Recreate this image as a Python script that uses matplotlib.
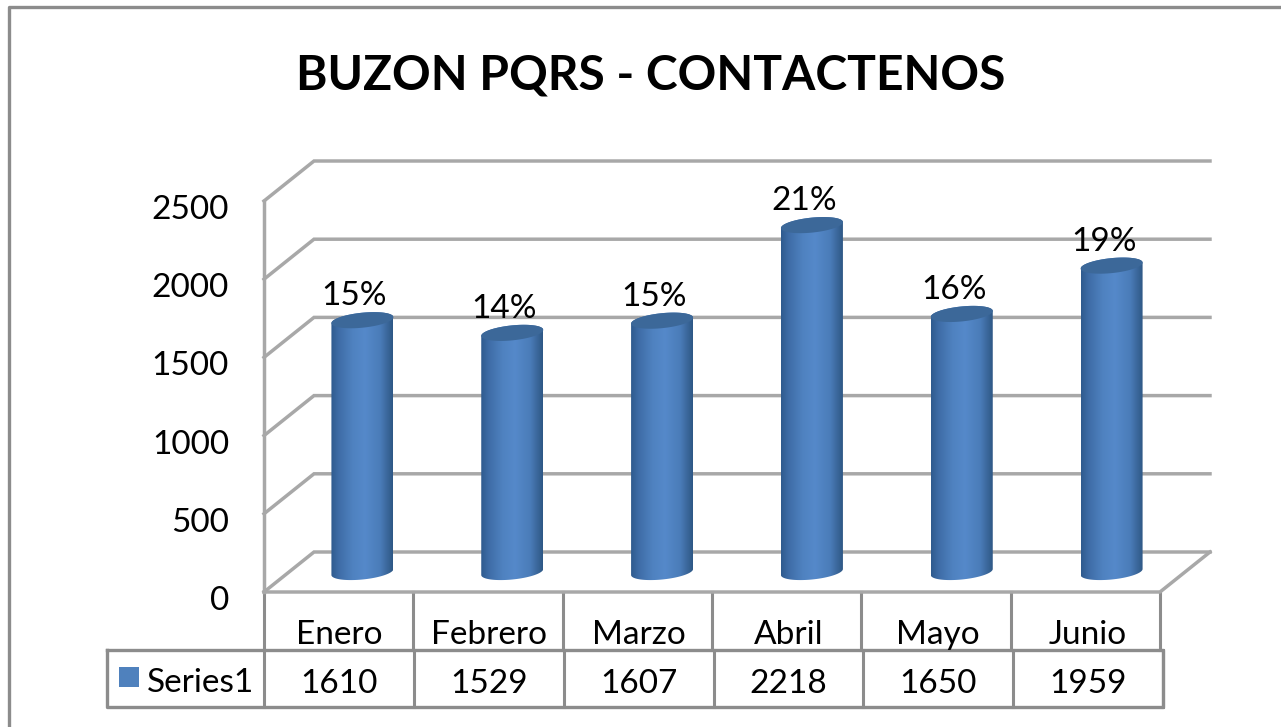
import numpy as np
import matplotlib
matplotlib.use('Agg')
import matplotlib.pyplot as plt
from matplotlib.colors import LinearSegmentedColormap
from matplotlib.patches import Polygon

W, H = 1281, 727

months = ['Enero', 'Febrero', 'Marzo', 'Abril', 'Mayo', 'Junio']
values = [1610, 1529, 1607, 2218, 1650, 1959]
percents = ['15%', '14%', '15%', '21%', '16%', '19%']
y_ticks = [0, 500, 1000, 1500, 2000, 2500]
series_name = 'Series1'
title = 'BUZON PQRS - CONTACTENOS'

LINE = '#8c8c8c'
GRID = '#a8a8a8'
BLUE = '#4f81bd'
FS = 24

plt.rcParams['font.family'] = ['Lato', 'DejaVu Sans']

fig = plt.figure(figsize=(W / 100, H / 100), dpi=100, facecolor='white')

# capa en pixeles para el marco y la tabla
bg = fig.add_axes([0, 0, 1, 1])
bg.set_xlim(0, W)
bg.set_ylim(H, 0)
bg.axis('off')
bg.plot([9, 9, W], [H, 7, 7], color=LINE, lw=2.4)

# ejes de datos: plano frontal del grafico 3D
x0, x1, y0, y1 = 264, 1163, 592, 201
ax = fig.add_axes([x0 / W, (H - y0) / H, (x1 - x0) / W, (y0 - y1) / H])
ax.set_xlim(-0.5, 5.5)
ax.set_ylim(0, 2500)
ax.axis('off')
ax.patch.set_alpha(0)

px = 6 / (x1 - x0)
py = 2500 / (y0 - y1)
depth_x, depth_y = 50 * px, 40 * py
front_right = 5.5 - 3 * px

# paredes y rejilla
for v in y_ticks:
    ax.plot([-0.5, -0.5 + depth_x, front_right + depth_x], [v, v + depth_y, v + depth_y],
            color=GRID, lw=2.5, clip_on=False, zorder=1, solid_joinstyle='miter')
ax.plot([-0.5, -0.5], [0, 2500], color=GRID, lw=2.5, clip_on=False, zorder=1)
ax.plot([-0.5, front_right, front_right + depth_x], [0, 0, depth_y],
        color=GRID, lw=2.5, clip_on=False, zorder=2)

# cilindros
cmap = LinearSegmentedColormap.from_list('cyl', [
    (0.0, '#2f5b8e'), (0.12, '#3e6ca6'), (0.35, '#4f82c0'), (0.55, '#5589ca'),
    (0.8, '#4a7cb8'), (0.92, '#3a6699'), (1.0, '#2e5885')])
grad = np.linspace(0, 1, 128).reshape(1, -1)
t = np.linspace(0, 2 * np.pi, 121)
a, b, tilt = 31, 7.5, 3.0
for i, v in enumerate(values):
    cx = i + 23.5 * px
    base = 20 * py
    ex = cx + a * np.cos(t) * px
    ew = (b * np.sin(t) + tilt * np.cos(t)) * py
    lower = t[60:]
    upper = t[:61]
    body_x = np.r_[cx + a * np.cos(lower) * px, cx + a * np.cos(upper) * px]
    body_y = np.r_[base + (b * np.sin(lower) + tilt * np.cos(lower)) * py,
                   base + v + (b * np.sin(upper) + tilt * np.cos(upper)) * py]
    body = Polygon(np.c_[body_x, body_y], closed=True, transform=ax.transData, fc='none', ec='none')
    ax.add_patch(body)
    img = ax.imshow(grad, cmap=cmap, aspect='auto', zorder=3,
                    extent=[cx - a * px, cx + a * px, 0, base + v + 2 * b * py])
    img.set_clip_path(body)
    ax.fill(ex, base + v + ew, color='#3c6899', zorder=4, lw=0)
    ax.annotate(percents[i], (cx, base + v), xytext=(-8, 24), textcoords='offset pixels',
                ha='center', va='center', fontsize=FS, color='black', zorder=5)
ax.set_xlim(-0.5, 5.5)
ax.set_ylim(0, 2500)

# etiquetas del eje y
for v in y_ticks:
    ax.annotate(str(v), (-0.5, v), xytext=(-35, -9), textcoords='offset pixels',
                ha='right', va='center', fontsize=FS, annotation_clip=False)

# tabla de datos
row_top, row_mid, row_bot = 592, 650, 707
for i in range(7):
    xa = x0 + i * (front_right + 0.5) / px / 6
    xb = x0 + i * (x1 - x0) / 6
    bg.plot([xa, xa], [row_top, row_mid], color=LINE, lw=2.2)
    bg.plot([xb, xb], [row_mid, row_bot], color=LINE, lw=2.2)
bg.plot([107, x1, x1, 107, 107], [row_mid, row_mid, row_bot, row_bot, row_mid], color=LINE, lw=2.4)

for i, m in enumerate(months):
    ax.annotate(m, (i, 0), xytext=(0, -43), textcoords='offset pixels',
                ha='center', va='center', fontsize=FS, annotation_clip=False)
    ax.annotate(str(values[i]), (i, 0), xytext=(0, -92), textcoords='offset pixels',
                ha='center', va='center', fontsize=FS, annotation_clip=False)

# leyenda
bg.fill([119, 139, 139, 119], [667, 667, 687, 687], color=BLUE, lw=0)
bg.text(147, 683, series_name, ha='left', va='center', fontsize=FS)

bg.text(651, 76, title, ha='center', va='center', fontsize=34.5, fontweight='bold')

fig.savefig('out.png', dpi=100)
